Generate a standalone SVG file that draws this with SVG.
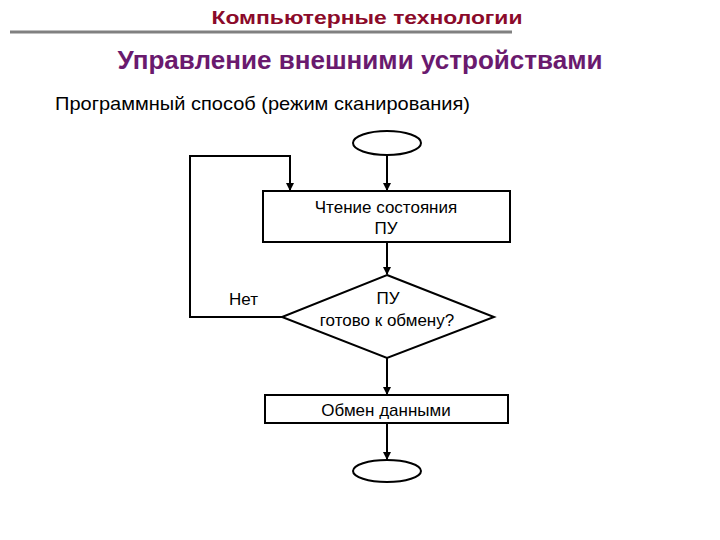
<svg xmlns="http://www.w3.org/2000/svg" width="720" height="540" viewBox="0 0 720 540">
<defs><marker id="ah" markerWidth="8" markerHeight="8" refX="7" refY="4" orient="auto" markerUnits="userSpaceOnUse"><path d="M0,0 L8,4 L0,8 z" fill="#000"/></marker></defs>
<style>
text{font-family:"Liberation Sans",Arial,sans-serif}
.s{fill:#fff;stroke:#000;stroke-width:2}
.c{fill:none;stroke:#000;stroke-width:2}
.t{font-size:17px;text-anchor:middle}
</style>
<rect width="720" height="540" fill="#fff"/>
<text x="367" y="24" font-size="19" font-weight="bold" fill="#8b0a2a" text-anchor="middle" textLength="311" lengthAdjust="spacingAndGlyphs">Компьютерные технологии</text>
<line x1="10" y1="32" x2="512" y2="32" stroke="#808080" stroke-width="3"/>
<text x="360" y="69" font-size="26" font-weight="bold" fill="#6a1a6e" text-anchor="middle" textLength="485" lengthAdjust="spacingAndGlyphs">Управление внешними устройствами</text>
<text x="55" y="110" font-size="19" textLength="415" lengthAdjust="spacingAndGlyphs">Программный способ (режим сканирования)</text>
<g id="connectors">
<path class="c" d="M387,155 V190" marker-end="url(#ah)"/>
<path class="c" d="M387,242 V274" marker-end="url(#ah)"/>
<path class="c" d="M282,317 H190 V156 H290 V190" marker-end="url(#ah)"/>
<path class="c" d="M387,358 V394" marker-end="url(#ah)"/>
<path class="c" d="M387,423 V459" marker-end="url(#ah)"/>
</g>
<g id="start"><ellipse class="s" cx="387" cy="143" rx="34" ry="12"/></g>
<g id="read"><rect class="s" x="263" y="191" width="247" height="51"/><text class="t" x="386" y="213">Чтение состояния</text><text class="t" x="386" y="234">ПУ</text></g>
<g id="check"><polygon class="s" points="387,275 494,317 387,358 282,317"/><text class="t" x="388" y="304">ПУ</text><text class="t" x="387" y="326">готово к обмену?</text></g>
<g id="no"><text x="229" y="305" font-size="17">Нет</text></g>
<g id="exchange"><rect class="s" x="265" y="395" width="243" height="28"/><text class="t" x="386" y="416">Обмен данными</text></g>
<g id="end"><ellipse class="s" cx="387" cy="471" rx="34" ry="11"/></g>
</svg>
